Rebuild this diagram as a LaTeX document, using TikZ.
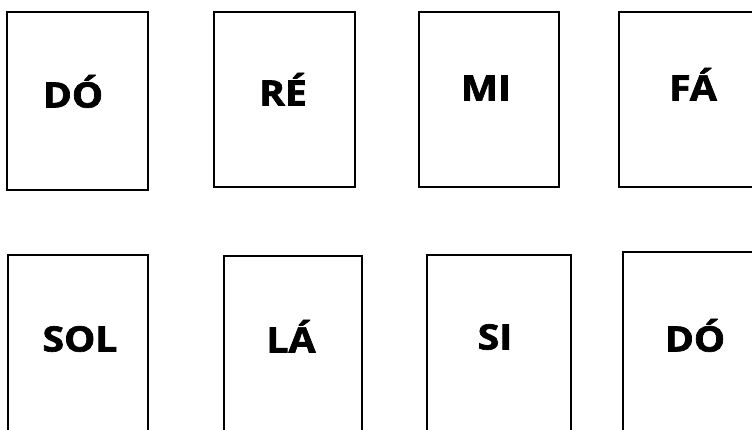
\documentclass[tikz,border=0pt]{standalone}
\usepackage{fontspec}
\setmainfont[BoldFont={Open Sans Bold}, BoldFeatures={FakeBold=1.8}]{Open Sans}
\usepackage{tikz}
\usetikzlibrary{positioning}

\newcommand{\wide}[1]{\scalebox{1.12}[1]{#1}}

\begin{document}
\begin{tikzpicture}[x=1pt, y=-1pt]
    \tikzstyle{card} = [rectangle, draw, line width=1.8pt, fill=white, inner sep=0pt]
    \tikzstyle{note} = [anchor=base, inner sep=0pt, font=\bfseries\fontsize{35}{35}\selectfont]

    \clip (0,0) rectangle (752,429);
    \fill[white] (0,0) rectangle (752,429);

    % top row
    \node [card, minimum width=141pt, minimum height=178pt] (c1) at (77.5,101) {};
    \node [card, minimum width=141pt, minimum height=175pt] (c2) at (284.5,99.5) {};
    \node [card, minimum width=140pt, minimum height=175pt] (c3) at (489,99.5) {};
    \node [card, minimum width=161pt, minimum height=175pt] (c4) at (699.5,99.5) {};

    % bottom row
    \node [card, minimum width=140pt, minimum height=205pt] (c5) at (78,357.5) {};
    \node [card, minimum width=138pt, minimum height=204pt] (c6) at (293,358) {};
    \node [card, minimum width=144pt, minimum height=205pt] (c7) at (499,357.5) {};
    \node [card, minimum width=157pt, minimum height=208pt] (c8) at (701.5,356) {};

    \node [note] (t1) at (73,107.5) {\wide{DÓ}};
    \node [note] (t2) at (283,105.5) {\wide{RÉ}};
    \node [note] (t3) at (486,100.5) {\wide{MI}};
    \node [note] (t4) at (693,100.5) {\wide{FÁ}};
    \node [note] (t5) at (80,351.5) {\wide{SOL}};
    \node [note] (t6) at (291,352.5) {\wide{LÁ}};
    \node [note] (t7) at (495,349.5) {\wide{SI}};
    \node [note] (t8) at (695,351.5) {\wide{DÓ}};
\end{tikzpicture}
\end{document}
